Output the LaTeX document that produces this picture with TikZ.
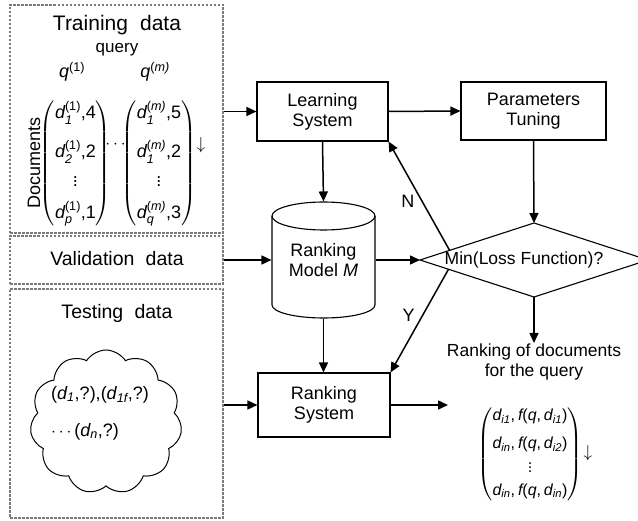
\documentclass[tikz,border=0pt]{standalone}
\usepackage{fontspec}
\usepackage{amsmath}
\setmainfont{Liberation Sans}
\usetikzlibrary{shapes.symbols,arrows.meta,calc}
\newcommand{\Di}[2]{\text{\itshape d}_{\text{\itshape #1}}^{\text{#2}}}
\newcommand{\Dn}[1]{\text{\itshape d}_{\text{\itshape #1}}}
\begin{document}
\begin{tikzpicture}[x=1pt,y=-1pt,
  box/.style={draw,line width=1.1pt,inner sep=0pt,align=center,font=\fontsize{18}{20}\selectfont},
  dotbox/.style={draw=black!52,line width=2.6pt,dash pattern=on 2.5pt off 1.5pt,inner sep=0pt},
  arr/.style={line width=1.5pt,-{Triangle[length=10pt,width=9pt]}},
  lbl/.style={font=\fontsize{18}{21}\selectfont,inner sep=1pt},
  title/.style={font=\fontsize{19.5}{22}\selectfont,inner sep=1pt},
  big/.style={font=\fontsize{21}{24}\selectfont,inner sep=1pt}
]
\useasboundingbox (0,0) rectangle (638,521);
\fill[white] (0,0) rectangle (638,521);

% dotted data boxes
\node[dotbox,minimum width=213pt,minimum height=228pt] (train) at (116.5,119) {};
\node[dotbox,minimum width=213pt,minimum height=48pt] (valid) at (116.5,260) {};
\node[dotbox,minimum width=213pt,minimum height=229pt] (test) at (116.5,403.5) {};

% training data content
\node[big] (traint) at (117,25) {Training\hspace{0.3em} data};
\node[lbl,font=\fontsize{17}{19}\selectfont] (query) at (117,50) {query};
\node[lbl] (q1) at (72,72) {$\text{\itshape q}^{\text{(1)}}$};
\node[lbl] (qm) at (155,72) {$\text{\itshape q}^{\text{(\itshape m)}}$};
\node[lbl,rotate=90] (docs) at (34,163) {Documents};
\node[lbl] (m1) at (75.5,163.5) {$\left(\begin{array}{@{}c@{}}
  \Di{1}{(1)}\text{,4}\\[15pt]
  \Di{2}{(1)}\text{,2}\\[6pt]
  \vdots\\[9pt]
  \Di{p}{(1)}\text{,1}
  \end{array}\right)$};
\node[lbl] (dots1) at (117,145) {$\cdots$};
\node[lbl] (m2) at (159,163.5) {$\left(\begin{array}{@{}c@{}}
  \Di{1}{(\itshape m)}\text{,5}\\[15pt]
  \Di{1}{(\itshape m)}\text{,2}\\[6pt]
  \vdots\\[9pt]
  \Di{q}{(\itshape m)}\text{,3}
  \end{array}\right)$};
\node[lbl] (down1) at (201,145) {$\downarrow$};

% validation / testing content
\node[title] (validt) at (117,259) {Validation\hspace{0.3em} data};
\node[title] (testt) at (117,313) {Testing\hspace{0.3em} data};
\node[cloud,draw,line width=1pt,cloud puffs=11,cloud puff arc=115,aspect=1.05,
      minimum width=152pt,minimum height=144pt] (cloud) at (106,422) {};
\node[lbl,align=left,font=\fontsize{18}{37}\selectfont] (cloudt) at (100,413)
  {($\Dn{1}$,?),($\Dn{1f}$,?)\\$\cdots$($\Dn{n}$,?)};

% system boxes
\node[box,minimum width=131pt,minimum height=59pt] (learn) at (322.5,111.5) {Learning\\System};
\node[box,minimum width=145pt,minimum height=58pt] (param) at (533.5,111) {Parameters\\Tuning};
\node[box,minimum width=132pt,minimum height=64pt] (rank) at (324,405) {Ranking\\System};

% ranking model cylinder
\node[box,draw=none,minimum width=103pt,minimum height=116pt] (model) at (323.5,260) {Ranking\\Model \textit{M}};
\draw[line width=1.1pt] (323.5,216) ellipse [x radius=51.5, y radius=14];
\draw[line width=1.1pt] (272,216) -- (272,305) arc[start angle=180,end angle=0,x radius=51.5,y radius=13] -- (375,216);

% decision diamond
\coordinate (dW) at (420,260);
\coordinate (dN) at (534,223);
\coordinate (dE) at (648,260);
\coordinate (dS) at (534,297);
\draw[line width=1.1pt] (dW) -- (dN) -- (dE) -- (dS) -- cycle;
\node[box,draw=none,font=\fontsize{17.5}{20}\selectfont] (dia) at (524,260) {Min(Loss Function)?};

% result
\node[lbl,align=center,font=\fontsize{17.5}{20}\selectfont,anchor=north] (res) at (534,343) {Ranking of documents\\for the query};
\node[lbl,font=\fontsize{16}{19}\selectfont] (resm) at (530,454) {$\left(\begin{array}{@{}c@{}}
  \Dn{i1}\text{,}\,\text{\itshape f}\text{(}\text{\itshape q}\text{,}\,\Dn{i1}\text{)}\\[9pt]
  \Dn{in}\text{,}\,\text{\itshape f}\text{(}\text{\itshape q}\text{,}\,\Dn{i2}\text{)}\\[2pt]
  \vdots\\[4pt]
  \Dn{in}\text{,}\,\text{\itshape f}\text{(}\text{\itshape q}\text{,}\,\Dn{in}\text{)}
  \end{array}\right)$};
\node[lbl] (down2) at (588,453) {$\downarrow$};
\coordinate (out) at (448,405);

% connectors
\draw[arr] (train.east |- learn.west) -- (learn.west);
\draw[arr] (learn.east) -- (param.west);
\draw[arr] (learn.south) -- (model.north);
\draw[arr] (param.south) -- (dN);
\draw[arr] (valid.east) -- (model.west);
\draw[arr] (model.east) -- (dW);
\draw[arr] ($(dW)!0.26!(dN)$) -- node[lbl,pos=0.45,left=6pt] (nlab) {N} (learn.south east);
\draw[arr] ($(dW)!0.25!(dS)$) -- node[lbl,pos=0.45,left=6pt] (ylab) {Y} (rank.north east);
\draw[arr] (model.south) -- (model.south |- rank.north);
\draw[arr] (test.east |- rank.west) -- (rank.west);
\draw[arr] (rank.east) -- (out);
\draw[arr] (dS) -- (res.north);
\end{tikzpicture}
\end{document}
